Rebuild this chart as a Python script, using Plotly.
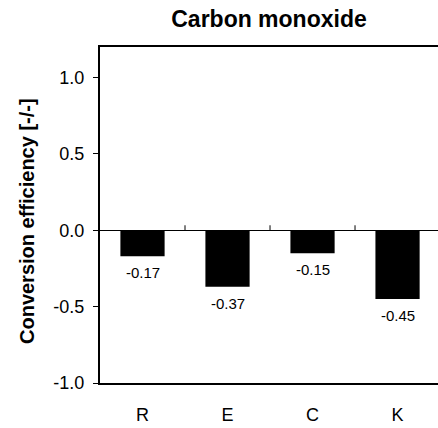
import plotly.graph_objects as go

# Conversion efficiency for carbon monoxide by configuration
categories = ["R", "E", "C", "K"]
efficiency = [-0.17, -0.37, -0.15, -0.45]
y_ticks = [-1.0, -0.5, 0.0, 0.5, 1.0]
y_tick_labels = ["-1.0", "-0.5", "0.0", "0.5", "1.0"]

FONT = "Liberation Sans, Arial, sans-serif"

fig = go.Figure()
fig.add_trace(go.Bar(
    x=list(range(len(categories))),
    y=efficiency,
    marker=dict(color="black", line=dict(width=0)),
    width=0.52,
    hoverinfo="skip",
))

# value labels under each bar
for i, v in enumerate(efficiency):
    fig.add_annotation(
        x=i, y=v, xref="x", yref="y",
        text=f"{v:.2f}", showarrow=False,
        yanchor="top", yshift=-6,
        font=dict(family=FONT, size=15, color="black"),
    )

# small upward ticks on the zero line between categories
for i in range(len(categories) - 1):
    fig.add_shape(
        type="line", xref="x", yref="y",
        x0=i + 0.5, x1=i + 0.5,
        ysizemode="pixel", yanchor=0, y0=0, y1=5,
        line=dict(color="black", width=1),
    )

fig.add_annotation(
    xref="paper", yref="paper", x=0, y=0.5,
    xanchor="center", yanchor="middle", xshift=-73, yshift=-6,
    text="<b>Conversion efficiency [-/-]</b>", textangle=-90,
    showarrow=False, font=dict(family=FONT, size=20, color="black"),
)

fig.update_layout(
    width=438, height=428,
    margin=dict(l=100, r=0, t=47, b=45, autoexpand=False),
    paper_bgcolor="white", plot_bgcolor="white",
    showlegend=False,
    title=dict(
        text="<b>Carbon monoxide</b>",
        x=0.5, xref="paper", xanchor="center",
        y=1, yref="container", yanchor="top", pad=dict(t=11),
        font=dict(family=FONT, size=23, color="black"),
    ),
    xaxis=dict(
        range=[-0.5, 3.476],
        tickmode="array",
        tickvals=list(range(len(categories))),
        ticktext=categories,
        ticks="outside", ticklen=14, tickcolor="rgba(0,0,0,0)",
        showline=True, linecolor="black", linewidth=2, mirror=True,
        showgrid=False, zeroline=False,
        tickfont=dict(family=FONT, size=18, color="black"),
        fixedrange=True,
    ),
    yaxis=dict(
        range=[-1.0, 1.2],
        tickmode="array",
        tickvals=y_ticks,
        ticktext=y_tick_labels,
        ticks="outside", ticklen=5, tickcolor="black", tickwidth=1,
        ticklabelstandoff=5,
        showline=True, linecolor="black", linewidth=2, mirror=False,
        showgrid=False,
        zeroline=True, zerolinecolor="black", zerolinewidth=1,
        tickfont=dict(family=FONT, size=18, color="black"),
        fixedrange=True,
    ),
)

fig.write_html("out.html", config={"displayModeBar": False})
